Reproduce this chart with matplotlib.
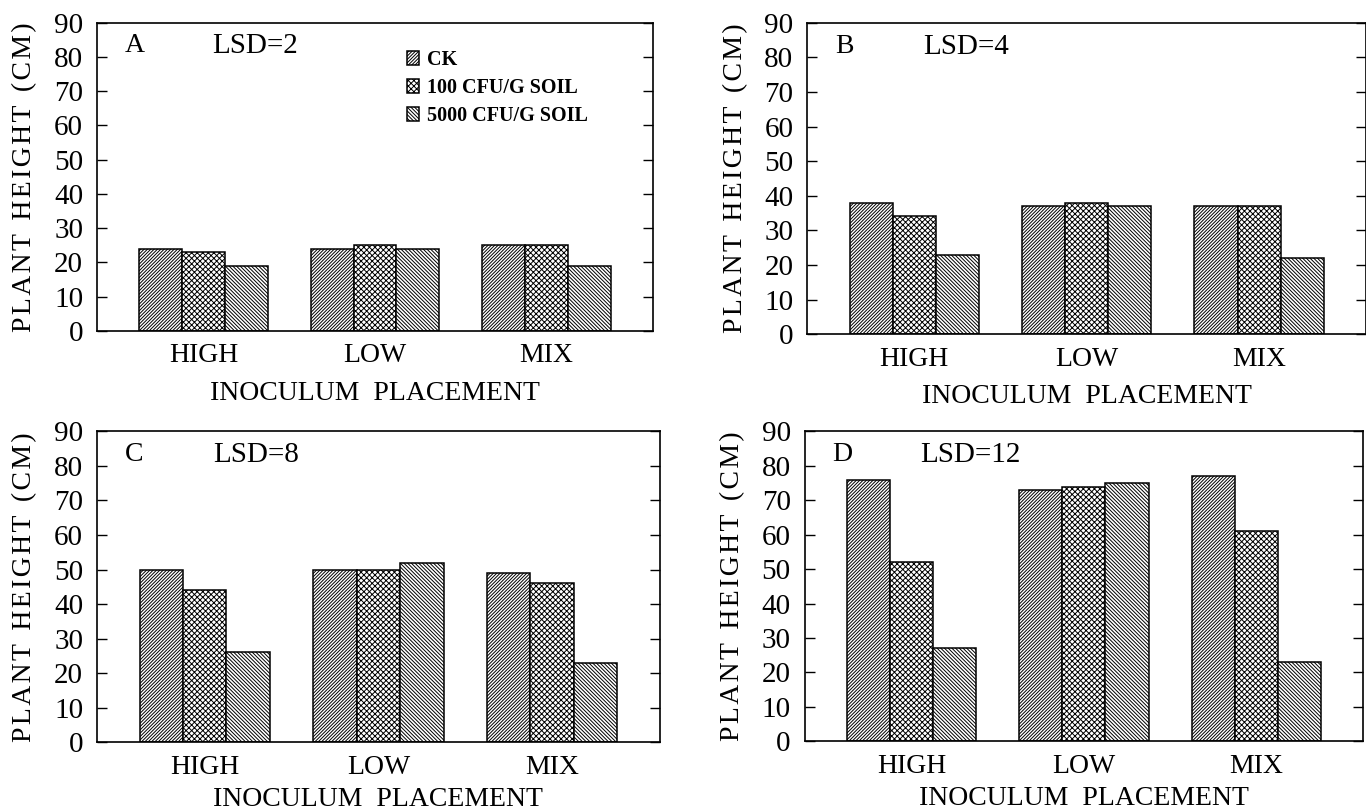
import matplotlib
matplotlib.use('Agg')
import matplotlib.pyplot as plt
import numpy as np

# plant height (cm), one list per panel
placements = ['HIGH', 'LOW', 'MIX']
treatments = ['CK', '100 CFU/G SOIL', '5000 CFU/G SOIL']
panel_letters = ['A', 'B', 'C', 'D']
lsd_values = [2, 4, 8, 12]

ck_height = [[24, 24, 25], [38, 37, 37], [50, 50, 49], [76, 73, 77]]
cfu100_height = [[23, 25, 25], [34, 38, 37], [44, 50, 46], [52, 74, 61]]
cfu5000_height = [[19, 24, 19], [23, 37, 22], [26, 52, 23], [27, 75, 23]]

y_ticks = list(range(0, 91, 10))

plt.rcParams['font.family'] = ['Liberation Serif', 'DejaVu Serif']
plt.rcParams['hatch.linewidth'] = 0.7
plt.rcParams['hatch.color'] = '#222222'

hatches = ['/' * 10, 'x' * 6, '\\' * 9]

# axes boxes in figure fractions (left, bottom, width, height)
boxes = [
    [0.071, 0.592, 0.407, 0.380],
    [0.591, 0.588, 0.409, 0.384],
    [0.071, 0.085, 0.412, 0.383],
    [0.589, 0.086, 0.409, 0.382],
]

hair = '\u200a'
ylab = '  '.join(hair.join(w) for w in ['PLANT', 'HEIGHT', '(CM)'])

fig = plt.figure(figsize=(13.66, 8.11), dpi=100)
x = np.arange(len(placements))
width = 0.25

for i in range(4):
    ax = fig.add_axes(boxes[i])
    series = [ck_height[i], cfu100_height[i], cfu5000_height[i]]
    for j, vals in enumerate(series):
        ax.bar(x + (j - 1) * width, vals, width, color='white', edgecolor='black',
               linewidth=1.1, hatch=hatches[j], label=treatments[j])

    ax.set_xlim(-0.62, 2.62)
    ax.set_ylim(0, 90)
    ax.set_yticks(y_ticks)
    ax.set_xticks(x)
    ax.set_xticklabels(placements, fontsize=20)
    ax.tick_params(axis='x', length=0, pad=9)
    ax.tick_params(axis='y', direction='in', length=7, width=1, right=True,
                   labelsize=21, pad=10)
    for s in ax.spines.values():
        s.set_linewidth(1.2)

    ax.set_xlabel('INOCULUM  PLACEMENT', fontsize=20, labelpad=9 if i < 2 else 5)
    ax.set_ylabel(ylab, fontsize=20, labelpad=12)

    ax.text(0.05, 0.965, panel_letters[i], transform=ax.transAxes,
            fontsize=20, va='top', ha='left')
    ax.text(0.207, 0.965, 'LSD=%d' % lsd_values[i], transform=ax.transAxes,
            fontsize=21, va='top', ha='left')

    if i == 0:
        ax.legend(loc='upper left', bbox_to_anchor=(0.540, 0.945), frameon=False,
                  prop={'size': 14.5, 'weight': 'bold'}, borderpad=0,
                  handlelength=0.6, handleheight=0.7, handletextpad=0.4,
                  labelspacing=0.4)

fig.savefig('out.png', dpi=100)
